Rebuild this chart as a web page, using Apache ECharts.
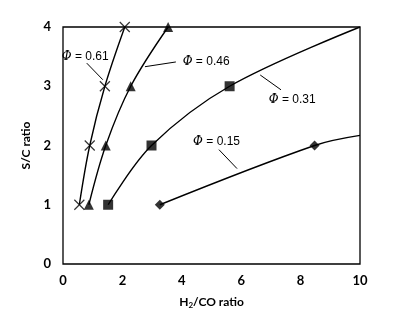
<!DOCTYPE html>
<html><head><meta charset="utf-8">
<script src="https://cdn.jsdelivr.net/npm/echarts@6/dist/echarts.min.js"></script>
<style>html,body{margin:0;padding:0;background:#fff}#c{width:401px;height:330px}</style>
</head><body><div id="c"></div>
<script>
// Data
const xTicks = [0, 2, 4, 6, 8, 10];
const yTicks = [0, 1, 2, 3, 4];
const scRatio = [1, 2, 3, 4];
const h2co_061 = [0.55, 0.9, 1.41, 2.08];
const h2co_046 = [0.87, 1.44, 2.28, 3.54];
const h2co_031 = [1.52, 2.98, 5.61];
const h2co_015 = [3.26, 8.47];
const sc_031 = [1, 2, 3];
const sc_015 = [1, 2];
// trend-curve end points (no markers)
const trendEnd_031 = [10, 4.0];
const trendEnd_015 = [10, 2.17];
// annotations: [label, textX, textY, arrowFromX, arrowFromY, arrowToX, arrowToY, align]
const annotations = [
  ['0.61', 0.75, 3.50, 0.80, 3.39, 1.34, 3.11, 'center'],
  ['0.46', 4.03, 3.41, 3.80, 3.41, 2.76, 3.33, 'left'],
  ['0.31', 7.72, 2.77, 7.34, 2.94, 6.64, 3.19, 'center'],
  ['0.15', 5.17, 2.06, 5.25, 1.93, 5.86, 1.61, 'center']
];

const zip = (xs, ys) => xs.map((x, i) => [x, ys[i]]);
const black = '#000';
const axisFont = {fontFamily: 'Lato', fontWeight: 'bold', fontSize: 13, color: '#000'};

function lineSeries(pts) {
  return {type: 'line', data: pts, smooth: 0.35, symbol: 'none',
    lineStyle: {color: black, width: 1.4}, z: 2, silent: true};
}
function markerSeries(pts, symbol, size, hollow) {
  return {type: 'scatter', data: pts, symbol: symbol, symbolSize: size, z: 3,
    itemStyle: hollow ? {color: 'rgba(0,0,0,0)', borderColor: black, borderWidth: 1.2} : {color: black}};
}

const series = [
  lineSeries(zip(h2co_061, scRatio)),
  lineSeries(zip(h2co_046, scRatio)),
  lineSeries(zip(h2co_031, sc_031).concat([trendEnd_031])),
  lineSeries(zip(h2co_015, sc_015).concat([trendEnd_015])),
  markerSeries(zip(h2co_061, scRatio), 'path://M0,0L10,10M10,0L0,10', 10, true),
  markerSeries(zip(h2co_046, scRatio), 'triangle', 10, false),
  markerSeries(zip(h2co_031, sc_031), 'rect', 10, false),
  markerSeries(zip(h2co_015, sc_015), 'diamond', 10, false),
  {
    type: 'scatter', data: [], silent: true,
    markLine: {
      silent: true, symbol: ['none', 'arrow'], symbolSize: [0, 7],
      lineStyle: {color: black, width: 1, type: 'solid'}, label: {show: false},
      data: annotations.map(a => [{coord: [a[3], a[4]]}, {coord: [a[5], a[6]]}])
    },
    markPoint: {
      silent: true, symbol: 'circle', symbolSize: 0,
      data: annotations.map(a => ({coord: [a[1], a[2]], value: a[0],
        label: {show: true, position: 'inside', align: a[7],
          formatter: '{i|Φ} = ' + a[0],
          fontFamily: 'Liberation Sans', fontSize: 12, color: '#000',
          rich: {i: {fontStyle: 'italic', fontFamily: 'DejaVu Serif', fontSize: 12, color: '#000'}}}}))
    }
  }
];

const chart = echarts.init(document.getElementById('c'), null, {renderer: 'canvas'});
chart.setOption({
  animation: false,
  backgroundColor: '#fff',
  grid: {left: 63, right: 41, top: 27, bottom: 66, show: true, borderColor: '#000', borderWidth: 1.3, backgroundColor: 'transparent'},
  xAxis: {
    type: 'value', min: xTicks[0], max: xTicks[xTicks.length - 1], interval: 2,
    name: 'H{s|2}/CO ratio', nameLocation: 'middle', nameGap: 31,
    nameTextStyle: Object.assign({}, axisFont, {fontSize: 12, rich: {s: Object.assign({}, axisFont, {fontSize: 8, verticalAlign: 'bottom', padding: [6, 0, 0, 0]})}}),
    axisLine: {show: false}, axisTick: {show: false}, splitLine: {show: false},
    axisLabel: Object.assign({margin: 10}, axisFont)
  },
  yAxis: {
    type: 'value', min: yTicks[0], max: yTicks[yTicks.length - 1], interval: 1,
    name: 'S/C ratio', nameLocation: 'middle', nameGap: 27,
    nameTextStyle: Object.assign({}, axisFont, {fontSize: 12}),
    axisLine: {show: false}, axisTick: {show: false}, splitLine: {show: false},
    axisLabel: Object.assign({margin: 12}, axisFont)
  },
  series: series
});
</script></body></html>
